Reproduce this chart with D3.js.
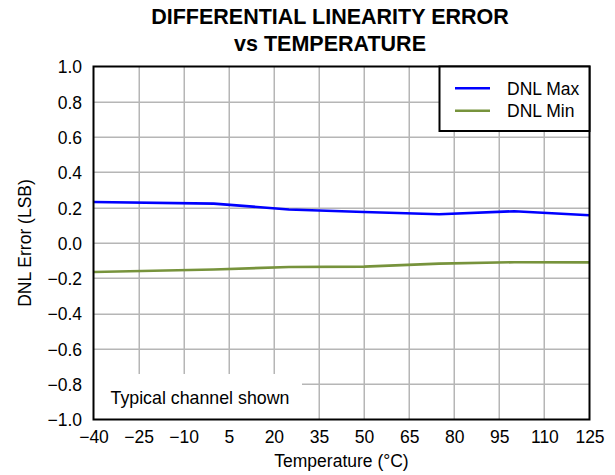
<!DOCTYPE html>
<html><head><meta charset="utf-8">
<script src="https://cdn.jsdelivr.net/npm/d3@7"></script>
<style>body{margin:0;background:#fff}svg text{font-family:"Liberation Sans",Arial,sans-serif}</style>
</head><body>
<svg id="c" width="615" height="475"></svg>
<script>
const temps = [-40, 0, 25, 50, 75, 100, 125];
const dnlMax = [0.232, 0.223, 0.19, 0.176, 0.163, 0.18, 0.157];
const dnlMin = [-0.164, -0.15, -0.136, -0.134, -0.117, -0.109, -0.11];
const xTicks = [-40, -25, -10, 5, 20, 35, 50, 65, 80, 95, 110, 125];
const yTicks = [-1.0, -0.8, -0.6, -0.4, -0.2, 0.0, 0.2, 0.4, 0.6, 0.8, 1.0];
const seriesNames = ["DNL Max", "DNL Min"];
const seriesColors = ["#0000ff", "#77933c"];
const titleLines = ["DIFFERENTIAL LINEARITY ERROR", "vs TEMPERATURE"];

const svg = d3.select("#c");
const L = 93.5, R = 589.5, T = 66.5, B = 419.5;
const x = d3.scaleLinear().domain([-40, 125]).range([L, R]);
const y = d3.scaleLinear().domain([-1, 1]).range([B, T]);
const minus = s => s.replace("-", "\u2212");

// gridlines
const grid = svg.append("g").attr("class", "grid");
xTicks.slice(1, -1).forEach(d => {
  grid.append("rect").attr("x", Math.round(x(d)) - 0.5).attr("y", T).attr("width", 1.5).attr("height", B - T)
    .style("fill", "#b6b6b6");
});
yTicks.slice(1, -1).forEach(d => {
  grid.append("rect").attr("x", L).attr("y", Math.round(y(d)) - 0.5).attr("width", R - L).attr("height", 1.5)
    .style("fill", "#b6b6b6");
});

// annotation box
svg.append("rect").attr("x", L).attr("y", 374).attr("width", 302 - L).attr("height", B - 374).style("fill", "#fff");
svg.append("text").attr("x", 110.5).attr("y", 404).attr("font-size", 17.8).text("Typical channel shown");

// lines
const line = d3.line().x((d, i) => x(temps[i])).y(d => y(d));
[dnlMax, dnlMin].forEach((s, k) => {
  svg.append("path").datum(s).attr("d", line).style("fill", "none")
    .style("stroke", seriesColors[k]).style("stroke-width", "2.6px");
});

// frame
svg.append("rect").attr("x", L).attr("y", T).attr("width", R - L).attr("height", B - T)
  .style("fill", "none").style("stroke", "#000").style("stroke-width", "2px");

// axes (text only)
const xAxis = d3.axisBottom(x).tickValues(xTicks).tickSize(0).tickFormat(d => minus(String(d)));
const gx = svg.append("g").attr("transform", `translate(0,${B})`).call(xAxis);
gx.select(".domain").remove();
gx.selectAll("text").attr("font-size", 17.5).attr("fill", "#000").attr("dy", null).attr("y", 23.2)
  .attr("font-family", '"Liberation Sans",Arial,sans-serif');

const yAxis = d3.axisLeft(y).tickValues(yTicks).tickSize(0).tickFormat(d => minus(d3.format(".1f")(d)));
const gy = svg.append("g").attr("transform", `translate(82,0)`).call(yAxis);
gy.select(".domain").remove();
gy.selectAll("text").attr("font-size", 17.5).attr("fill", "#000").attr("x", 0).attr("dy", "0.36em")
  .attr("font-family", '"Liberation Sans",Arial,sans-serif');

// axis labels
svg.append("text").attr("x", (L + R) / 2).attr("y", 466.5).attr("text-anchor", "middle").attr("font-size", 17.5).text("Temperature (\u00B0C)");
svg.append("text").attr("transform", `translate(31,${(T + B) / 2}) rotate(-90)`).attr("text-anchor", "middle").attr("font-size", 17.5).text("DNL Error (LSB)");

// title
svg.selectAll(".title").data(titleLines).join("text").attr("class", "title")
  .attr("x", 330).attr("y", (d, i) => 24 + i * 26.5).attr("text-anchor", "middle")
  .attr("font-size", 21.5).attr("font-weight", "bold").text(d => d);

// legend
const lg = svg.append("g");
lg.append("rect").attr("x", 439.5).attr("y", T).attr("width", R - 439.5).attr("height", 131 - T)
  .style("fill", "#fff").style("stroke", "#000").style("stroke-width", "2px");
seriesNames.forEach((n, k) => {
  const yy = 88.3 + k * 22.4;
  lg.append("line").attr("x1", 455).attr("x2", 490).attr("y1", yy).attr("y2", yy)
    .style("stroke", seriesColors[k]).style("stroke-width", "2.6px");
  lg.append("text").attr("x", 507).attr("y", yy + 6.5).attr("font-size", 17.5).text(n);
});
</script>
</body></html>
